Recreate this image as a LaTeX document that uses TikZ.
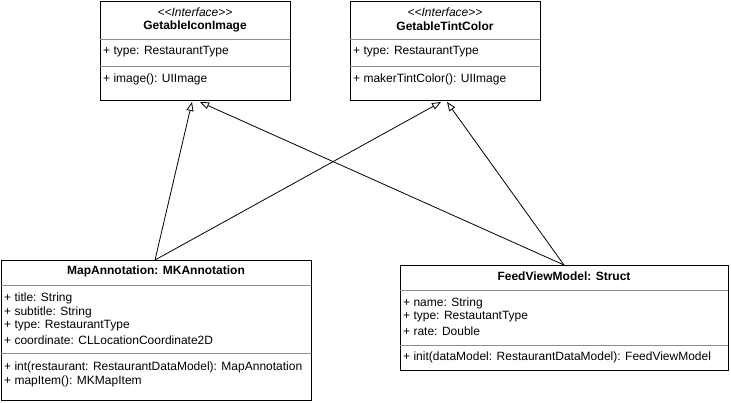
\documentclass[tikz,border=0pt]{standalone}
\usepackage{fontspec}
\setmainfont{Liberation Sans}[Ligatures=TeXOff]
\usetikzlibrary{arrows.meta,calc}
\begin{document}
\begin{tikzpicture}[x=1pt,y=-1pt,
  box/.style={draw=black,line width=1pt,anchor=north west,inner sep=0pt},
  sep/.style={draw=black!45,line width=0.8pt},
  txt/.style={anchor=west,inner sep=0pt,font=\fontsize{12}{14}\selectfont},
  ttl/.style={anchor=center,inner sep=0pt,font=\fontsize{12}{14}\selectfont\bfseries},
  ster/.style={anchor=center,inner sep=0pt,font=\fontsize{12}{14}\selectfont\itshape},
  impl/.style={draw=black,line width=0.8pt,-{Triangle[open,length=9pt,width=7pt]}}]
\useasboundingbox (0,0) rectangle (731,402);
% GetableIconImage
\node[box,minimum width=190pt,minimum height=99pt] (icon) at (100,1) {};
\draw[sep] (100,39) -- (290,39);
\draw[sep] (100,66) -- (290,66);
\node[ster] (iconSt) at (195,12) {<<Interface>>};
\node[ttl] (iconT) at (195,26) {GetableIconImage};
\node[txt] (iconA) at (103,52) {+ type: RestaurantType};
\node[txt] (iconM) at (103,79) {+ image(): UIImage};
% GetableTintColor
\node[box,minimum width=190pt,minimum height=99pt] (tint) at (350,1) {};
\draw[sep] (350,39) -- (540,39);
\draw[sep] (350,66) -- (540,66);
\node[ster] (tintSt) at (445,12) {<<Interface>>};
\node[ttl] (tintT) at (445,26) {GetableTintColor};
\node[txt] (tintA) at (353,52) {+ type: RestaurantType};
\node[txt] (tintM) at (353,79) {+ makerTintColor(): UIImage};
% MapAnnotation
\node[box,minimum width=310pt,minimum height=140pt] (map) at (1,260) {};
\draw[sep] (1,285) -- (311,285);
\draw[sep] (1,353) -- (311,353);
\node[ttl] (mapT) at (156,271) {MapAnnotation: MKAnnotation};
\node[txt] (mapA1) at (4,298) {+ title: String};
\node[txt] (mapA2) at (4,312) {+ subtitle: String};
\node[txt] (mapA3) at (4,326) {+ type: RestaurantType};
\node[txt] (mapA4) at (4,340) {+ coordinate: CLLocationCoordinate2D};
\node[txt] (mapM1) at (4,367) {+ int(restaurant: RestaurantDataModel): MapAnnotation};
\node[txt] (mapM2) at (4,381) {+ mapItem(): MKMapItem};
% FeedViewModel
\node[box,minimum width=328pt,minimum height=105pt] (feed) at (400,265) {};
\draw[sep] (400,290) -- (728,290);
\draw[sep] (400,345) -- (728,345);
\node[ttl] (feedT) at (564,276) {FeedViewModel: Struct};
\node[txt] (feedA1) at (403,303) {+ name: String};
\node[txt] (feedA2) at (403,317) {+ type: RestautantType};
\node[txt] (feedA3) at (403,331) {+ rate: Double};
\node[txt] (feedM1) at (403,357) {+ init(dataModel: RestaurantDataModel): FeedViewModel};
% connection points
\coordinate (mapTop) at ($(map.north west)+(154,0)$);
\coordinate (feedTop) at ($(feed.north west)+(164,0)$);
\coordinate (iconL) at ($(icon.south west)+(92,1)$);
\coordinate (iconR) at ($(icon.south west)+(100,1)$);
\coordinate (tintL) at ($(tint.south west)+(91,1)$);
\coordinate (tintR) at ($(tint.south west)+(97,1)$);
\draw[impl] (mapTop) -- (iconL);
\draw[impl] (feedTop) -- (iconR);
\draw[impl] (mapTop) -- (tintL);
\draw[impl] (feedTop) -- (tintR);
\end{tikzpicture}
\end{document}
